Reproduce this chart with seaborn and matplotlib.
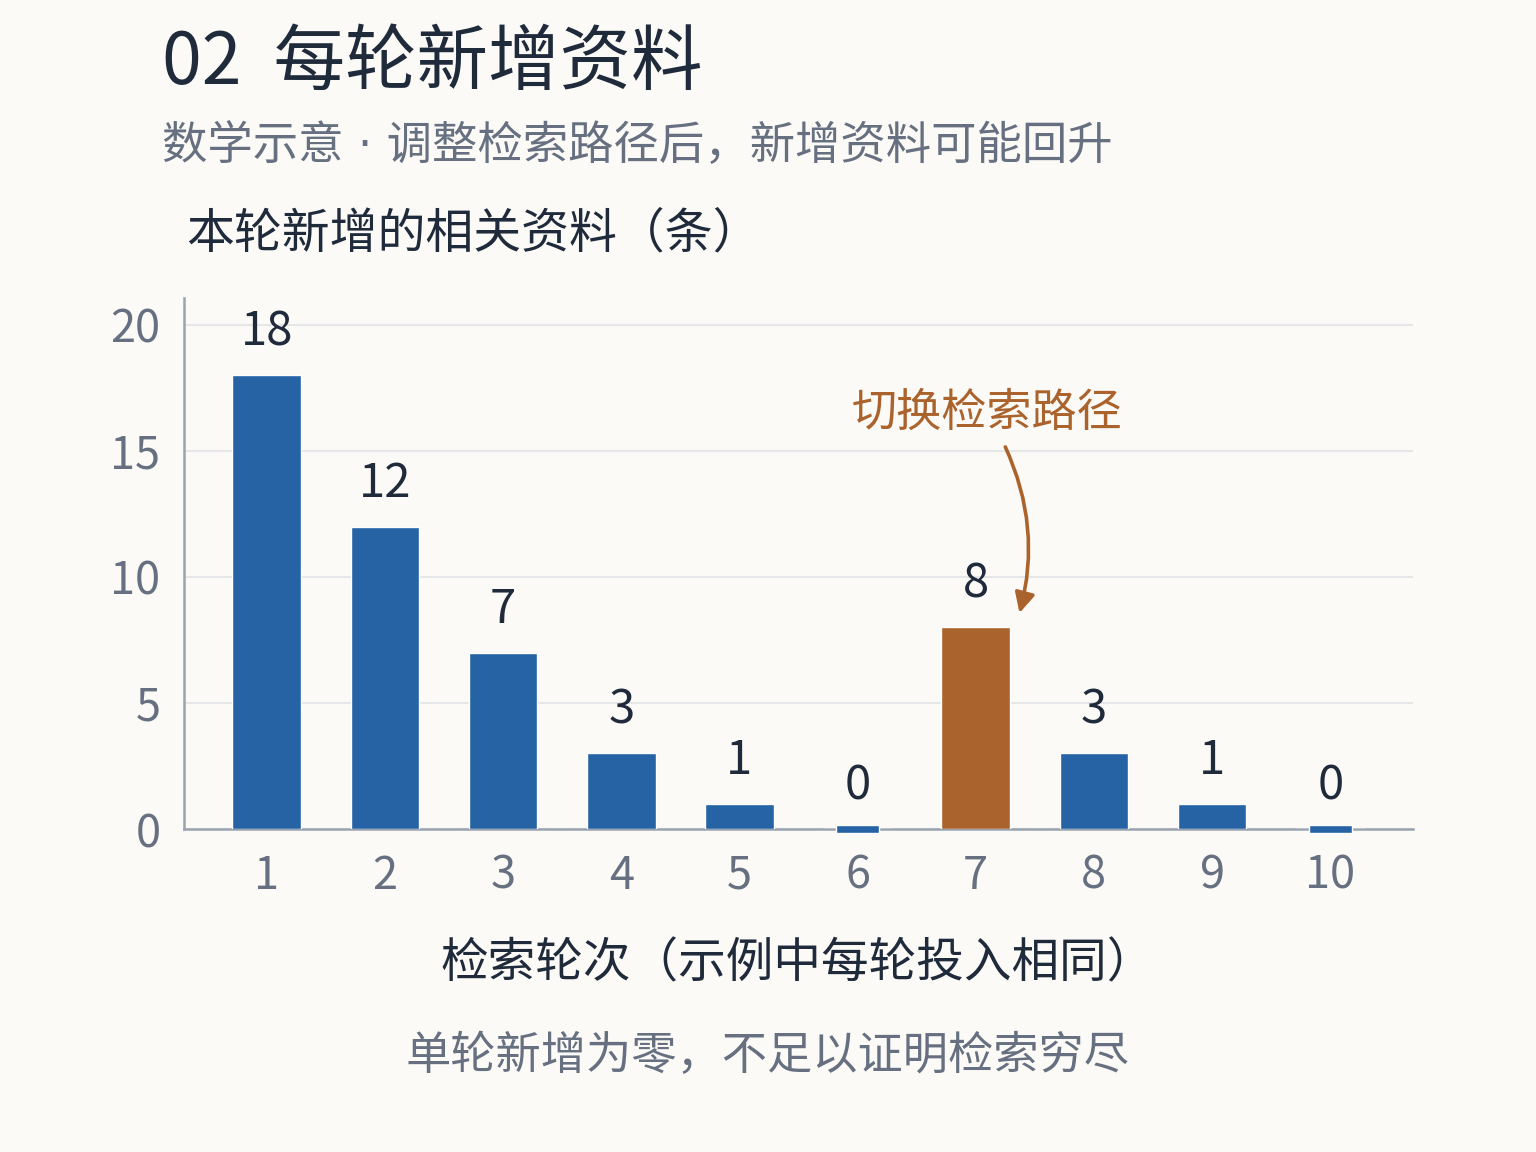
import matplotlib
matplotlib.use("Agg")
import matplotlib.pyplot as plt
import seaborn as sns
import pandas as pd

rounds = ["1", "2", "3", "4", "5", "6", "7", "8", "9", "10"]
new_items = [18, 12, 7, 3, 1, 0, 8, 3, 1, 0]
highlight_round = "7"
y_ticks = [0, 5, 10, 15, 20]

title = "02  每轮新增资料"
subtitle = "数学示意 · 调整检索路径后，新增资料可能回升"
y_label = "本轮新增的相关资料（条）"
x_label = "检索轮次（示例中每轮投入相同）"
note = "单轮新增为零，不足以证明检索穷尽"
annot_text = "切换检索路径"

BG = "#fbfaf6"
BLUE = "#2663a5"
ORANGE = "#ab632d"
DARK = "#1f2a3b"
GRAY = "#667080"
GRID = "#e4e6e8"
SPINE = "#9aa3b0"

sns.set_theme(style="white")
plt.rcParams["font.family"] = ["Noto Sans CJK SC", "DejaVu Sans"]

df = pd.DataFrame({"round": rounds, "n": new_items})
palette = {r: (ORANGE if r == highlight_round else BLUE) for r in rounds}

fig = plt.figure(figsize=(15.36, 11.52), dpi=100, facecolor=BG)
ax = fig.add_axes([184 / 1536, 1 - 829 / 1152, (1413 - 184) / 1536, (829 - 298) / 1152])
ax.set_facecolor(BG)

sns.barplot(data=df, x="round", y="n", hue="round", palette=palette,
            order=rounds, width=0.58, legend=False, ax=ax, saturation=1,
            zorder=3)

ax.set_xlim(-0.7, len(rounds) - 0.3)
ax.set_ylim(0, 21.07)
ax.set_yticks(y_ticks)
ax.yaxis.grid(True, color=GRID, linewidth=1.5, zorder=0)
ax.set_axisbelow(True)
for s in ["top", "right"]:
    ax.spines[s].set_visible(False)
for s in ["left", "bottom"]:
    ax.spines[s].set_color(SPINE)
    ax.spines[s].set_linewidth(1.8)
    ax.spines[s].set_zorder(2)
ax.tick_params(axis="both", length=0, labelsize=32.5, labelcolor=GRAY)
ax.tick_params(axis="x", pad=17)
ax.tick_params(axis="y", pad=17)
ax.set_xlabel("")
ax.set_ylabel("")

# zero stubs and value labels
for i, (r, v) in enumerate(zip(rounds, new_items)):
    c = palette[r]
    if v == 0:
        ax.bar(i, 0.32, bottom=-0.16, width=0.36, color=c, zorder=4, clip_on=False)
    ax.annotate(str(v), xy=(i, v), xytext=(0, 31), textcoords="offset points",
                ha="center", va="center", fontsize=34, color=DARK)

# annotation
hi = rounds.index(highlight_round)
ax.text(hi + 0.10, 16.5, annot_text, ha="center", va="center", fontsize=32.5,
        color=ORANGE)
ax.annotate("", xy=(hi + 0.37, 8.57), xytext=(hi + 0.25, 15.16),
            arrowprops=dict(arrowstyle="-|>", color=ORANGE, lw=2.6,
                            mutation_scale=30,
                            connectionstyle="arc3,rad=-0.18",
                            shrinkA=0, shrinkB=0))

fig.text(162 / 1536, 1 - 63 / 1152, title, ha="left", va="center",
         fontsize=51.5, color=DARK)
fig.text(162 / 1536, 1 - 146 / 1152, subtitle, ha="left", va="center",
         fontsize=32.7, color=GRAY, family=["DejaVu Sans", "Noto Sans CJK SC"])
fig.text(186 / 1536, 1 - 234 / 1152, y_label, ha="left", va="center",
         fontsize=34.5, color=DARK)
fig.text(798 / 1536, 1 - 964 / 1152, x_label, ha="center", va="center",
         fontsize=34.3, color=DARK)
fig.text(0.5, 1 - 1056 / 1152, note, ha="center", va="center",
         fontsize=32.6, color=GRAY)

fig.savefig("out.png", dpi=100, facecolor=BG)
